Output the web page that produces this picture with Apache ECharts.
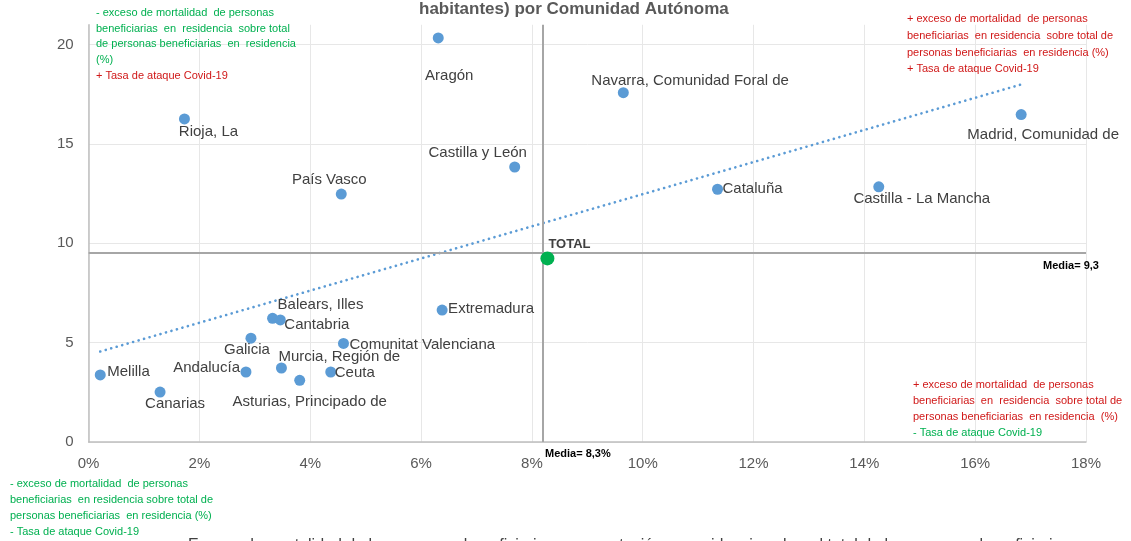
<!DOCTYPE html>
<html><head><meta charset="utf-8">
<script src="https://cdn.jsdelivr.net/npm/echarts@6/dist/echarts.min.js"></script>
<style>html,body{margin:0;padding:0;background:#fff;overflow:hidden}#c{width:1131px;height:541px}</style>
</head><body><div id="c"></div>
<script>
// ---- data ----
const regiones = ['Melilla','Canarias','Rioja, La','País Vasco','Aragón','Navarra, Comunidad Foral de','Castilla y León','Madrid, Comunidad de','Cataluña','Castilla - La Mancha','Extremadura','Balears, Illes','Cantabria','Galicia','Comunitat Valenciana','Andalucía','Murcia, Región de','Asturias, Principado de','Ceuta'];
const excesoMortalidad = [0.21, 1.29, 1.73, 4.56, 6.31, 9.65, 7.69, 16.83, 11.35, 14.26, 6.38, 3.32, 3.46, 2.93, 4.60, 2.84, 3.48, 3.81, 4.37];
const tasaAtaque = [3.37, 2.51, 16.26, 12.48, 20.34, 17.58, 13.84, 16.48, 12.72, 12.84, 6.64, 6.22, 6.14, 5.22, 4.96, 3.52, 3.72, 3.10, 3.52];
const totalNombre = 'TOTAL';
const totalExceso = 8.28;
const totalTasa = 9.24;
const mediaExceso = 8.2;
const mediaTasa = 9.5;
const mediaExcesoTexto = 'Media= 8,3%';
const mediaTasaTexto = 'Media= 9,3';
const xTickStep = 2, xMax = 18;
const yTickStep = 5, yMax = 21;

// ---- label placement (style only) ----
const labelLayout = {
  'Melilla': ['left', 7, -3],
  'Canarias': ['center', 15, 12],
  'Rioja, La': ['center', 24, 13],
  'País Vasco': ['center', -12, -14],
  'Aragón': ['center', 11, 38],
  'Navarra, Comunidad Foral de': ['left', -32, -12],
  'Castilla y León': ['center', -37, -14],
  'Madrid, Comunidad de': ['center', 22, 20],
  'Cataluña': ['left', 5, 0],
  'Castilla - La Mancha': ['center', 43, 12],
  'Extremadura': ['left', 6, -1],
  'Balears, Illes': ['left', 5, -13],
  'Cantabria': ['left', 4, 5],
  'Galicia': ['center', -4, 12],
  'Comunitat Valenciana': ['left', 6, 1],
  'Andalucía': ['right', -6, -4],
  'Murcia, Región de': ['left', -3, -11],
  'Asturias, Principado de': ['center', 10, 22],
  'Ceuta': ['left', 4, 1]
};

// linear trend (least squares) over regions
const n = regiones.length;
const mx = excesoMortalidad.reduce((a,b)=>a+b,0)/n;
const my = tasaAtaque.reduce((a,b)=>a+b,0)/n;
let sxy = 0, sxx = 0;
for (let i=0;i<n;i++){ sxy += (excesoMortalidad[i]-mx)*(tasaAtaque[i]-my); sxx += (excesoMortalidad[i]-mx)**2; }
const slope = sxy/sxx, icpt = my - slope*mx;
const xMinD = Math.min(...excesoMortalidad), xMaxD = Math.max(...excesoMortalidad);
const trend = [[xMinD, icpt+slope*xMinD],[xMaxD, icpt+slope*xMaxD]];

const FONT = 'Liberation Sans, Arial, sans-serif';
const GREEN = '#00B050', RED = '#D01818', BLUE = '#5B9BD5';

const pts = regiones.map((nm,i)=>{
  const L = labelLayout[nm] || ['left',6,0];
  return {name:nm, value:[excesoMortalidad[i], tasaAtaque[i]],
    label:{show:true, position:'inside', align:L[0], verticalAlign:'middle', offset:[L[1], L[2]]}};
});

const chart = echarts.init(document.getElementById('c'), null, {renderer:'canvas'});

function txt(text, x, y, color, lh){
  return {type:'text', silent:true, z:100, style:{text:text, x:x, y:y, fill:color, font:'11px '+FONT, lineHeight:lh||16, verticalAlign:'top'}};
}

chart.setOption({
  animation:false,
  backgroundColor:'#fff',
  grid:{left:88.6, right:45, top:24.8, bottom:99.1, containLabel:false},
  xAxis:{type:'value', min:0, max:xMax, interval:xTickStep,
    axisLine:{show:true, onZero:false, lineStyle:{color:'#BFBFBF', width:1.5}},
    axisTick:{show:false},
    axisLabel:{formatter:'{value}%', color:'#595959', fontSize:15, fontFamily:FONT, margin:14},
    splitLine:{show:true, lineStyle:{color:'#E7E7E7', width:1}}},
  yAxis:{type:'value', min:0, max:yMax, interval:yTickStep,
    axisLine:{show:true, onZero:false, lineStyle:{color:'#BFBFBF', width:1.5}},
    axisTick:{show:false},
    axisLabel:{color:'#595959', fontSize:15, fontFamily:FONT, margin:15, showMaxLabel:false},
    splitLine:{show:true, showMaxLine:false, lineStyle:{color:'#E7E7E7', width:1}}},
  series:[
    {type:'line', data:trend, symbol:'none', silent:true, z:2,
     lineStyle:{color:BLUE, width:2.6, type:[0.1,5.6], cap:'round'}},
    {type:'scatter', data:pts, symbolSize:11, z:4,
     itemStyle:{color:BLUE, opacity:1},
     label:{formatter:'{b}', color:'#404040', fontSize:15, fontFamily:FONT},
     markLine:{silent:true, symbol:'none', label:{show:false},
       lineStyle:{color:'#A6A6A6', width:2, type:'solid'},
       data:[{xAxis:mediaExceso},{yAxis:mediaTasa}]}},
    {type:'scatter', data:[{name:totalNombre, value:[totalExceso,totalTasa]}], symbolSize:14, z:5,
     itemStyle:{color:GREEN, opacity:1},
     label:{show:true, formatter:'{b}', position:'inside', align:'left', verticalAlign:'middle', offset:[1,-14],
       color:'#404040', fontSize:13, fontWeight:'bold', fontFamily:FONT}}
  ],
  graphic:[
    {type:'text', silent:true, style:{text:'habitantes) por Comunidad Autónoma', x:419, y:1, fill:'#595959', font:'bold 17px '+FONT, verticalAlign:'top'}},
    txt('- exceso de mortalidad  de personas\nbeneficiarias  en  residencia  sobre total\nde personas beneficiarias  en  residencia\n(%)', 96, 5, GREEN, 15.7),
    txt('+ Tasa de ataque Covid-19', 96, 68, RED),
    txt('+ exceso de mortalidad  de personas\nbeneficiarias  en residencia  sobre total de\npersonas beneficiarias  en residencia (%)\n+ Tasa de ataque Covid-19', 907, 11, RED, 16.6),
    txt('+ exceso de mortalidad  de personas\nbeneficiarias  en  residencia  sobre total de\npersonas beneficiarias  en residencia  (%)', 913, 377, RED),
    txt('- Tasa de ataque Covid-19', 913, 425, GREEN),
    txt('- exceso de mortalidad  de personas\nbeneficiarias  en residencia sobre total de\npersonas beneficiarias  en residencia (%)\n- Tasa de ataque Covid-19', 10, 476, GREEN),
    {type:'text', silent:true, z:100, style:{text:mediaTasaTexto, x:1043, y:266, fill:'#000', font:'bold 11px '+FONT, verticalAlign:'middle'}},
    {type:'text', silent:true, z:100, style:{text:mediaExcesoTexto, x:545, y:454, fill:'#000', font:'bold 11px '+FONT, verticalAlign:'middle'}},
    {type:'text', silent:true, z:100, style:{text:'Exceso de mortalidad de las personas beneficiarias con prestación en residencia sobre el total de las personas beneficiarias', x:188, y:538, fill:'#404040', font:'16px '+FONT, verticalAlign:'top'}}
  ]
});
</script></body></html>
